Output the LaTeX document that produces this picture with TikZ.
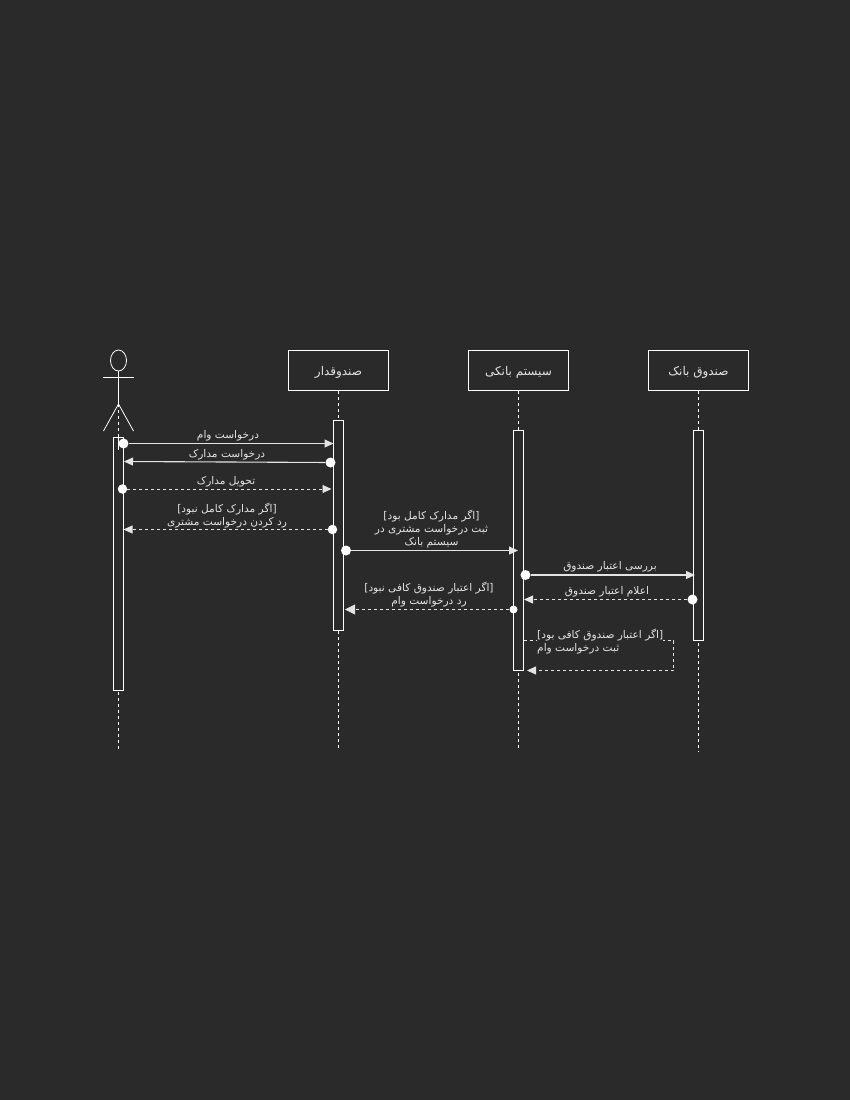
\documentclass[tikz,border=0pt]{standalone}
\usepackage{fontspec}
\usepackage{tikz}
\usetikzlibrary{calc}
\usetikzlibrary{arrows.meta}
\TeXXeTstate=1
\newfontfamily\arabicfont[Script=Arabic]{DejaVu Sans}
\newcommand{\fa}[1]{\beginR #1\endR}
\definecolor{fondo}{HTML}{2A2A2A}
\definecolor{letra}{HTML}{E4E4E4}
\tikzset{
	caja/.style = {draw=white, line width=0.8pt, fill=fondo, minimum width=100pt, minimum height=40pt, inner sep=0pt, text=letra, text height=11pt, text depth=2pt, font=\arabicfont\fontsize{12}{14}\selectfont},
	barra/.style = {draw=white, line width=0.8pt, fill=fondo, minimum width=10pt, inner sep=0pt},
	vida/.style = {draw=white, dashed, line width=0.7pt},
	punto/.style = {circle, fill=white!90!letra, inner sep=0pt, minimum size=#1},
	msg/.style = {draw=letra, line width=1.1pt, -{Triangle[length=9pt,width=8pt,fill=letra]}},
	resp/.style = {draw=letra, dashed, line width=0.8pt, -{Triangle[length=9pt,width=8pt,fill=letra]}},
	etiq/.style = {text=letra, inner sep=0pt, align=center, yshift=-0.8pt, font=\arabicfont\fontsize{10.6}{13}\selectfont},
}
\begin{document}
\begin{tikzpicture}[x=1pt, y=-1pt]
	\fill [fondo] (0,0) rectangle (850,1100);
	\useasboundingbox (0,0) rectangle (850,1100);

	% cajas
	\node [caja] (cajero) at (338.5,370.5) {\fa{صندوقدار}};
	\node [caja] (sistema) at (518.5,370.5) {\fa{سیستم بانکی}};
	\node [caja] (fondobanco) at (698.5,370.5) {\fa{صندوق بانک}};

	% fin de las lineas de vida
	\coordinate (finactor) at (118.5,751);
	\coordinate (fincajero) at (338.5,749);
	\coordinate (finsistema) at (518.5,749);
	\coordinate (finbanco) at (698.5,751);
	\coordinate (cadera) at (118.5,404);

	\draw [vida] (cadera) -- (finactor);
	\draw [vida] (cajero) -- (fincajero);
	\draw [vida] (sistema) -- (finsistema);
	\draw [vida] (fondobanco) -- (finbanco);

	% actor
	\draw [white, line width=0.8pt] (118.5,360.5) ellipse (8 and 10.5);
	\draw [white, line width=0.8pt] (118.5,371) -- (cadera);
	\draw [white, line width=0.8pt] (103,377) -- (134,377);
	\draw [white, line width=0.8pt] (103.5,431) -- (cadera) -- (133.5,431);

	% barras de activacion
	\node [barra, minimum height=253pt] (b1) at (118.5,563.5) {};
	\node [barra, minimum height=210pt] (b2) at (338.5,525.5) {};
	\node [barra, minimum height=240pt] (b3) at (518.5,550.5) {};
	\node [barra, minimum height=210pt] (b4) at (698.5,535.5) {};
	\draw [white, line width=0.8pt] (118.5,437) -- (118.5,450);

	% mensajes
	\node [punto=10pt] (p1) at (123.5,443.5) {};
	\coordinate (f1) at (333.5,443.5);
	\draw [msg] (p1) -- (f1);
	\node [etiq] (t1) at (228,435) {\fa{درخواست وام}};

	\node [punto=10pt] (p2) at (330.5,462.5) {};
	\coordinate (f2) at (124,461.5);
	\draw [msg] (p2) -- (f2);
	\node [etiq] (t2) at (227,454) {\fa{درخواست مدارک}};

	\node [punto=9.5pt] (p3) at (122.5,489) {};
	\coordinate (f3) at (331.5,489);
	\draw [resp] (p3) -- (f3);
	\node [etiq] (t3) at (226,481) {\fa{تحویل مدارک}};

	\node [punto=9.5pt] (p4) at (332.5,529.5) {};
	\coordinate (f4) at (123.5,529.5);
	\draw [resp] (p4) -- (f4);
	\node [etiq] (t4) at (227,514.5) {\fa{[اگر مدارک کامل نبود]}\\\fa{رد کردن درخواست مشتری}};

	\node [punto=10pt] (p5) at (346,550.5) {};
	\coordinate (f5) at (518,550.5);
	\draw [msg] (p5) -- (f5);
	\node [etiq] (t5) at (431.5,528.5) {\fa{[اگر مدارک کامل بود]}\\\fa{ثبت درخواست مشتری در}\\\fa{سیستم بانک}};

	\node [punto=10pt] (p6) at (525.5,575) {};
	\coordinate (f6) at (695,575);
	\draw [msg] (p6) -- (f6);
	\node [etiq] (t6) at (610,566) {\fa{بررسی اعتبار صندوق}};

	\node [punto=10pt] (p7) at (692.5,599.5) {};
	\coordinate (f7) at (524,599.5);
	\draw [resp] (p7) -- (f7);
	\node [etiq] (t7) at (607,591) {\fa{اعلام اعتبار صندوق}};

	\node [punto=8pt] (p8) at (513.5,609.5) {};
	\coordinate (f8) at (345,609.5);
	\draw [resp, -{Triangle[length=10pt,width=10pt,fill=letra]}] (p8) -- (f8);
	\node [etiq] (t8) at (429,594) {\fa{[اگر اعتبار صندوق کافی نبود]}\\\fa{رد درخواست وام}};

	% vuelta sobre el sistema
	\coordinate (s9) at (523.5,640.5);
	\coordinate (f9) at (527,670.5);
	\draw [resp] (s9) -- (673.5,640.5) -- (673.5,670.5) -- (f9);
	\node [etiq, fill=fondo, align=left, anchor=north west] (t9) at (537,628) {\fa{[اگر اعتبار صندوق کافی بود]}\\\fa{ثبت درخواست وام}};
\end{tikzpicture}
\end{document}
